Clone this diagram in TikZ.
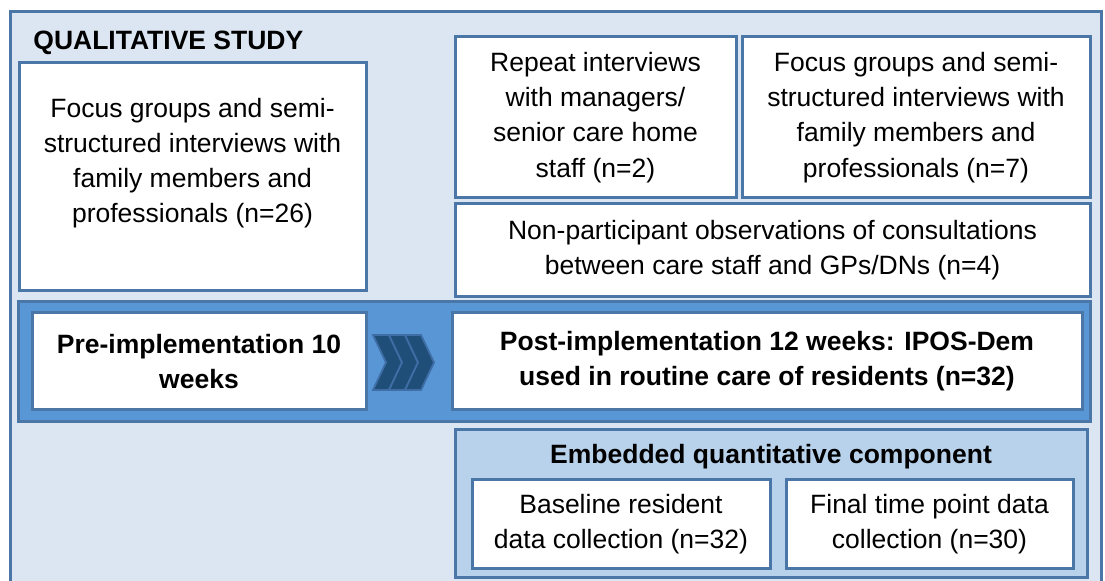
\documentclass[tikz,border=0pt]{standalone}
\usepackage{fontspec}
\setmainfont{Liberation Sans}
\usepackage{tikz}
\usetikzlibrary{positioning}

\definecolor{frameblue}{RGB}{74,118,168}
\definecolor{paleblue}{RGB}{220,230,242}
\definecolor{midblue}{RGB}{88,150,214}
\definecolor{softblue}{RGB}{185,210,235}
\definecolor{darkblue}{RGB}{31,78,121}
\definecolor{chevline}{RGB}{62,110,165}

\begin{document}
\begin{tikzpicture}[x=0.5pt,y=-0.5pt]
  \tikzset{FrameStyle/.style = {
    shape         = rectangle,
    draw          = frameblue,
    line width    = 1.5pt,
    inner sep     = 0pt,
    outer sep     = 0pt
    }
  }
  \tikzset{BoxStyle/.style = {
    shape         = rectangle,
    draw          = frameblue,
    fill          = white,
    line width    = 1.5pt,
    text          = black,
    align         = center,
    inner sep     = 0pt,
    outer sep     = 0pt,
    font          = \fontsize{13.25}{17.6}\selectfont
    }
  }
  \tikzset{BoldBox/.style = {
    BoxStyle,
    font          = \fontsize{13.25}{17.6}\selectfont\bfseries
    }
  }
  \tikzset{HeadStyle/.style = {
    text          = black,
    inner sep     = 0pt,
    font          = \fontsize{13.25}{17.6}\selectfont\bfseries
    }
  }
  \tikzset{ChevronStyle/.style = {
    fill          = darkblue,
    draw          = chevline,
    line width    = 0.9pt,
    line join     = miter
    }
  }

  \useasboundingbox (0,0) rectangle (1105,581);

  % outer frame and blocks
  \node[FrameStyle, fill=paleblue, minimum width=545.5pt, minimum height=299pt](qual) at (555.5, 311) {};
  \node[HeadStyle, anchor=base west](qualhead) at (33, 50) {QUALITATIVE STUDY};

  \node[BoxStyle, minimum width=173.5pt, minimum height=114pt](famA) at (192.5, 177) {};
  \node[BoxStyle, draw=none, fill=none](famAtext) at ([yshift=7pt]famA.center)
    {Focus groups and semi-\\structured interviews with\\family members and\\professionals (n=26)};

  \node[BoxStyle, minimum width=140.5pt, minimum height=80.5pt](rep) at (595.5, 117.5)
    {Repeat interviews\\with managers/\\senior care home\\staff (n=2)};
  \node[BoxStyle, minimum width=174pt, minimum height=80.5pt](famB) at (916, 117.5)
    {Focus groups and semi-\\structured interviews with\\family members and\\professionals (n=7)};
  \node[BoxStyle, minimum width=317.5pt, minimum height=46.5pt](obs) at (772.5, 250.5)
    {Non-participant observations of consultations\\between care staff and GPs/DNs (n=4)};

  % implementation band
  \node[FrameStyle, fill=midblue, minimum width=536pt, minimum height=60pt](band) at (554, 362) {};
  \node[BoldBox, minimum width=167pt, minimum height=48.5pt](pre) at (199, 361.5)
    {Pre-implementation 10\\weeks};
  \node[BoldBox, minimum width=315pt, minimum height=48.5pt](post) at (767, 361.5)
    {Post-implementation 12 weeks: IPOS-Dem\\used in routine care of residents (n=32)};
  \foreach \cx in {373, 389, 405}
    \draw[ChevronStyle] (\cx, 335) -- (\cx+16, 335) -- (\cx+29, 362.5) -- (\cx+16, 390)
      -- (\cx, 390) -- (\cx+13, 362.5) -- cycle;

  % quantitative part
  \node[FrameStyle, fill=softblue, minimum width=316pt, minimum height=74pt](embed) at (771, 504) {};
  \node[HeadStyle](embedhead) at (771, 457) {Embedded quantitative component};
  \node[BoxStyle, minimum width=149pt, minimum height=44.5pt](base) at (621, 524.5)
    {Baseline resident\\data collection (n=32)};
  \node[BoxStyle, minimum width=143.5pt, minimum height=44.5pt](final) at (929.5, 524.5)
    {Final time point data\\collection (n=30)};

\end{tikzpicture}
\end{document}
